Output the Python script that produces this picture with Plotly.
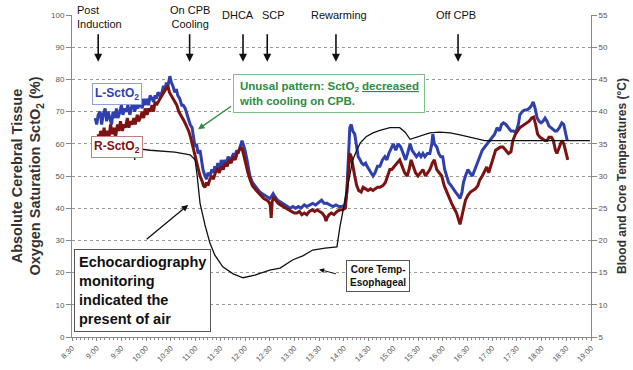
import plotly.graph_objects as go

# ---------------- data ----------------
tick_hours = [8.5 + 0.5 * i for i in range(22)]
tick_labels = ["8:30", "9:00", "9:30", "10:00", "10:30", "11:00", "11:30", "12:00", "12:30",
               "13:00", "13:30", "14:00", "14:30", "15:00", "15:30", "16:00", "16:30",
               "17:00", "17:30", "18:00", "18:30", "19:00"]

l_time = [8.97, 9.00, 9.03, 9.07, 9.10, 9.13, 9.17, 9.20, 9.23, 9.27, 9.30, 9.33, 9.37, 9.40, 9.43,
          9.47, 9.50, 9.53, 9.57, 9.60, 9.63, 9.67, 9.70, 9.73, 9.77, 9.80, 9.83, 9.88, 9.92, 9.95,
          9.98, 10.02, 10.05, 10.08, 10.12, 10.15, 10.18, 10.21, 10.24, 10.28, 10.32, 10.35, 10.38,
          10.41, 10.44, 10.48, 10.51, 10.54, 10.58, 10.61, 10.64, 10.68, 10.72, 10.75, 10.79, 10.82,
          10.85, 10.89, 10.93, 10.96, 10.99, 11.02, 11.05, 11.09, 11.12, 11.15, 11.19, 11.22, 11.25,
          11.29, 11.33, 11.36, 11.39, 11.42, 11.45, 11.49, 11.52, 11.55, 11.59, 11.62, 11.66, 11.70,
          11.74, 11.77, 11.80, 11.83, 11.86, 11.90, 11.94, 11.96, 12.00, 12.04, 12.07, 12.10, 12.15,
          12.20, 12.24, 12.30, 12.35, 12.40, 12.44, 12.50, 12.55, 12.57, 12.61, 12.66, 12.71, 12.77,
          12.81, 12.86, 12.91, 12.97, 13.02, 13.08, 13.13, 13.20, 13.25, 13.31, 13.37, 13.43, 13.50,
          13.55, 13.60, 13.66, 13.72, 13.78, 13.84, 13.90, 13.96, 14.02, 14.06, 14.09, 14.12, 14.15,
          14.18, 14.22, 14.26, 14.29, 14.33, 14.36, 14.40, 14.44, 14.47, 14.51, 14.55, 14.59, 14.63,
          14.68, 14.73, 14.78, 14.83, 14.87, 14.91, 14.96, 15.00, 15.05, 15.10, 15.15, 15.20, 15.25,
          15.29, 15.34, 15.38, 15.42, 15.47, 15.52, 15.56, 15.60, 15.64, 15.69, 15.74, 15.78, 15.80,
          15.83, 15.88, 15.92, 15.96, 16.00, 16.04, 16.08, 16.12, 16.17, 16.21, 16.26, 16.31, 16.35,
          16.39, 16.42, 16.46, 16.51, 16.55, 16.60, 16.65, 16.70, 16.75, 16.80, 16.85, 16.90, 16.95,
          17.00, 17.05, 17.10, 17.15, 17.19, 17.23, 17.28, 17.33, 17.38, 17.43, 17.48, 17.53, 17.56,
          17.61, 17.66, 17.70, 17.75, 17.80, 17.83, 17.87, 17.91, 17.95, 17.99, 18.03, 18.07, 18.11,
          18.15, 18.19, 18.23, 18.27, 18.31, 18.36, 18.41, 18.45, 18.49, 18.52]
l_sct = [68, 66, 69, 70, 66, 69, 71, 67, 70, 68, 66, 70, 68, 71, 68,
         70, 72, 69, 71, 70, 72, 69, 71, 73, 70, 72, 71, 73, 71, 74,
         72, 74, 72, 75, 74, 73, 75, 74, 76, 75, 76, 78, 77,
         79, 78, 81, 79, 78, 76, 77, 75, 74, 72, 72, 71, 69,
         68, 66, 65, 62, 59, 60, 57, 58, 55, 52, 50, 49, 51,
         50, 52, 51, 53, 52, 54, 52, 55, 53, 55, 54, 56, 55,
         56, 57, 56, 58, 57, 59, 61, 60, 58, 55, 52, 50, 48,
         47, 46, 45, 44.5, 44, 43.5, 43, 44, 44.5, 43.5, 42.5, 42, 41.5,
         41, 40.5, 40, 40.5, 40, 40.5, 40, 41, 40.5, 41, 41.5, 41, 42,
         42.5, 41.5, 41.5, 41, 40.5, 41, 40.5, 40.5, 41, 45, 56, 65, 66,
         64, 63, 58, 56, 55, 54, 53.5, 54, 53, 52, 51, 50, 51,
         53, 53, 55, 56, 55, 57, 59, 60, 58, 60, 59, 57, 55,
         57, 60, 58, 57, 56, 57, 56, 57, 56, 57, 57, 60, 63,
         60, 59, 57, 56, 56, 52, 50, 48, 47, 46, 45, 44, 43,
         45, 48, 50, 52, 51, 50, 52, 54, 56, 58, 59, 60, 61,
         62, 63, 65, 64, 66, 66.5, 66, 65, 64, 64, 63.5, 66, 69,
         70, 70.5, 70.5, 71, 72, 73, 71, 68, 67, 66.5, 67, 68, 67,
         65.5, 65, 64.5, 64, 64, 65, 66.5, 66, 63, 61]

r_time = [9.03, 9.05, 9.08, 9.12, 9.15, 9.18, 9.22, 9.25, 9.28, 9.32, 9.35, 9.38, 9.42, 9.45, 9.48,
          9.52, 9.55, 9.58, 9.62, 9.65, 9.68, 9.72, 9.75, 9.78, 9.82, 9.85, 9.88, 9.92, 9.95, 9.98,
          10.02, 10.05, 10.08, 10.12, 10.15, 10.18, 10.21, 10.24, 10.28, 10.32, 10.36, 10.40, 10.44,
          10.47, 10.51, 10.55, 10.58, 10.62, 10.66, 10.70, 10.73, 10.77, 10.80, 10.83, 10.86, 10.90,
          10.93, 10.96, 10.99, 11.02, 11.05, 11.09, 11.13, 11.16, 11.19, 11.22, 11.25, 11.29, 11.33,
          11.36, 11.40, 11.44, 11.48, 11.52, 11.56, 11.60, 11.64, 11.68, 11.72, 11.76, 11.80, 11.84,
          11.88, 11.92, 11.95, 11.98, 12.02, 12.06, 12.10, 12.15, 12.20, 12.26, 12.32, 12.38, 12.44,
          12.48, 12.51, 12.53, 12.55, 12.58, 12.62, 12.67, 12.72, 12.77, 12.82, 12.88, 12.94, 13.00,
          13.05, 13.10, 13.15, 13.20, 13.25, 13.30, 13.36, 13.41, 13.46, 13.51, 13.56, 13.61, 13.64,
          13.66, 13.70, 13.75, 13.80, 13.86, 13.92, 13.98, 14.03, 14.06, 14.08, 14.10, 14.12, 14.15,
          14.18, 14.22, 14.26, 14.30, 14.35, 14.39, 14.44, 14.49, 14.54, 14.59, 14.63, 14.68, 14.73,
          14.79, 14.84, 14.89, 14.93, 14.97, 15.02, 15.07, 15.13, 15.18, 15.23, 15.28, 15.32, 15.36,
          15.40, 15.45, 15.50, 15.55, 15.60, 15.65, 15.70, 15.74, 15.79, 15.83, 15.88, 15.93, 15.98,
          16.03, 16.08, 16.13, 16.18, 16.23, 16.28, 16.33, 16.35, 16.38, 16.42, 16.46, 16.51, 16.56,
          16.61, 16.66, 16.71, 16.75, 16.80, 16.85, 16.89, 16.93, 16.97, 17.02, 17.07, 17.12, 17.17,
          17.22, 17.27, 17.33, 17.38, 17.42, 17.47, 17.52, 17.56, 17.61, 17.66, 17.70, 17.75, 17.80,
          17.84, 17.88, 17.92, 17.97, 18.02, 18.07, 18.11, 18.15, 18.20, 18.24, 18.28, 18.31, 18.36,
          18.41, 18.45, 18.50, 18.53]
r_sct = [63, 61, 64, 62, 65, 61, 64, 62, 66, 63, 65, 62, 66, 64, 67,
         64, 66, 65, 68, 65, 67, 66, 68, 66, 69, 67, 68, 70, 68, 71,
         69, 71, 70, 72, 70, 73, 72, 73, 74, 75, 76, 77, 78,
         76, 75, 74, 73, 72, 70, 69, 68, 67, 66, 65, 64, 62,
         60, 58, 56, 54, 52.5, 50, 48.5, 47, 46.5, 48, 47, 49, 50,
         49, 51, 52, 51, 53, 52, 54, 53, 55, 54, 56, 55, 57,
         58, 59, 58, 56, 53, 51, 49, 47, 46, 45, 44, 43, 42.5,
         42, 41, 37, 42, 43.5, 42.5, 41.5, 41, 40.5, 40, 39.5, 39, 38.5,
         38.5, 39, 38, 38.5, 38, 39, 39.5, 39, 39.5, 39, 38.5, 37.5, 36,
         37, 38, 38.5, 38, 39, 39.5, 39.5, 40, 45, 50, 54, 57, 56,
         53, 50, 47, 45.5, 45, 46.5, 46, 45.5, 46, 45.5, 46, 46.5, 46.5,
         47, 48, 50, 52, 52, 53, 54, 55, 53, 51, 50, 52, 55,
         53, 51, 50, 51, 52, 50, 51, 52, 54, 55, 52, 51, 50,
         47, 45, 43, 41.5, 40, 38.5, 36, 35, 37, 40, 42.5, 44, 45,
         45.5, 46, 47, 48.8, 50, 51.5, 52.8, 51, 53, 56, 58, 58.5, 59,
         59, 58, 57, 57.5, 61, 63, 64, 65, 65.5, 66, 66.5, 67, 68,
         68.3, 66, 63, 62, 61.5, 61, 61, 62, 62, 61, 58, 57, 59,
         61, 60, 57, 55]

core_time = [9.77, 9.77, 10.08, 10.58, 10.89, 10.99, 11.03, 11.09, 11.19, 11.29, 11.39, 11.55, 11.76,
             11.96, 12.20, 12.50, 12.71, 12.97, 13.17, 13.37, 13.62, 13.86, 13.92, 14.00, 14.06,
             14.12, 14.18, 14.26, 14.33, 14.45, 14.59, 14.73, 14.93, 15.13, 15.24, 15.34, 15.54,
             15.74, 15.94, 16.15, 16.35, 16.61, 16.85, 17.06, 17.36, 18.98]
core_temp = [32.5, 34.3, 34.0, 33.7, 33.3, 32.5, 30.2, 25.8, 22.4, 19.6, 17.7, 15.9, 14.8,
             14.2, 14.6, 15.4, 15.7, 17.0, 17.6, 18.5, 18.8, 19.0, 22.1, 25.5, 27.4,
             30.2, 32.5, 34.0, 35.1, 36.1, 36.7, 37.1, 37.5, 37.5, 36.8, 35.7, 36.2,
             36.7, 36.8, 36.7, 36.4, 35.9, 35.5, 35.5, 35.5, 35.5]

event_labels = ["Post<br>Induction", "On CPB<br>Cooling", "DHCA", "SCP", "Rewarming", "Off CPB"]
event_times = [9.03, 10.88, 11.96, 12.45, 13.84, 16.31]
event_label_x = [9.06, 10.88, 11.85, 12.57, 13.90, 16.27]

FONT = "Arial, Liberation Sans, sans-serif"
BLUE = "#2f3fae"
RED = "#7d1212"
GREEN = "#2e8b43"

fig = go.Figure()
fig.add_trace(go.Scatter(x=l_time, y=l_sct, mode="lines", name="L-SctO2",
                         line=dict(color=BLUE, width=3), yaxis="y"))
fig.add_trace(go.Scatter(x=r_time, y=r_sct, mode="lines", name="R-SctO2",
                         line=dict(color=RED, width=3), yaxis="y"))
fig.add_trace(go.Scatter(x=core_time, y=core_temp, mode="lines", name="Core Temp",
                         line=dict(color="#111111", width=1.3), yaxis="y2"))

ann = []
for i, (lab, lx) in enumerate(zip(event_labels, event_label_x)):
    two = "<br>" in lab
    ann.append(dict(x=lx, y=1.0, xref="x", yref="paper", text=lab, showarrow=False,
                    xanchor="center",
                    yanchor="top" if two else "middle",
                    yshift=13 if two else 0,
                    font=dict(family=FONT, size=11, color="#111"), bgcolor="white",
                    align="left" if i == 0 else "center"))
for t in event_times:
    ann.append(dict(x=t, y=85.5, xref="x", yref="y", ax=t, ay=94.5, axref="x", ayref="y",
                    showarrow=True, arrowhead=2, arrowsize=1, arrowwidth=1.6,
                    arrowcolor="#111", text=""))

ann.append(dict(x=9.42, y=75.5, xref="x", yref="y", text="<b>L-SctO<sub>2</sub></b>",
                showarrow=False, font=dict(family=FONT, size=12, color=BLUE),
                bordercolor="#8fa0d8", borderwidth=1, bgcolor="white", borderpad=2))
ann.append(dict(x=9.42, y=59, xref="x", yref="y", text="<b>R-SctO<sub>2</sub></b>",
                showarrow=False, font=dict(family=FONT, size=12, color=RED),
                bordercolor="#c08080", borderwidth=1, bgcolor="white", borderpad=2))
ann.append(dict(x=11.75, y=75.5, xref="x", yref="y", xanchor="left",
                text="<b>Unusal pattern: SctO<sub>2</sub> <u>decreased</u><br>with cooling on CPB.</b>",
                showarrow=False, align="left", font=dict(family=FONT, size=11.5, color=GREEN),
                bordercolor="#7cc08a", borderwidth=1, bgcolor="white", borderpad=5))
ann.append(dict(x=11.05, y=64.5, xref="x", yref="y", ax=11.75, ay=72.0, axref="x", ayref="y",
                showarrow=True, arrowhead=2, arrowwidth=1.3, arrowcolor=GREEN, text=""))
ann.append(dict(x=8.54, y=14.5, xref="x", yref="y", xanchor="left",
                text="<b>Echocardiography<br>monitoring<br>indicated the<br>present of air</b>",
                showarrow=False, align="left", font=dict(family=FONT, size=14.5, color="#111"),
                bordercolor="#555", borderwidth=1, bgcolor="white", borderpad=4))
ann.append(dict(x=10.85, y=41, xref="x", yref="y", ax=9.98, ay=30, axref="x", ayref="y",
                showarrow=True, arrowhead=2, arrowwidth=1.3, arrowcolor="#111", text=""))
ann.append(dict(x=14.69, y=19.0, xref="x", yref="y",
                text="<b>Core Temp-<br>Esophageal</b>", showarrow=False, align="center",
                font=dict(family=FONT, size=10, color="#111"),
                bordercolor="#555", borderwidth=1, bgcolor="white", borderpad=3))
ann.append(dict(x=13.50, y=21.0, xref="x", yref="y", ax=13.87, ay=19.5, axref="x", ayref="y",
                showarrow=True, arrowhead=2, arrowwidth=1, arrowcolor="#111", text=""))

fig.update_layout(
    width=633, height=370,
    margin=dict(l=72, r=42, t=15, b=33),
    paper_bgcolor="white", plot_bgcolor="white",
    showlegend=False,
    font=dict(family=FONT, color="#333"),
    xaxis=dict(range=[8.5, 19.0], tickvals=tick_hours, ticktext=tick_labels, tickangle=-45,
               tickfont=dict(size=7.5, color="#555"), showgrid=False, zeroline=False,
               showline=True, linecolor="#888", linewidth=1, ticks="outside", ticklen=3,
               tickcolor="#888", automargin=False,
               minor=dict(dtick=1/12, ticks="outside", ticklen=2, tickcolor="#888")),
    yaxis=dict(range=[0, 100], tickvals=list(range(0, 101, 10)), tickfont=dict(size=8, color="#555"),
               showgrid=True, gridcolor="#999", griddash="dot", gridwidth=1, zeroline=False,
               showline=True, linecolor="#888", linewidth=1, ticks="outside", ticklen=5,
               tickcolor="#888", automargin=False,
               title=dict(text="<b>Absolute Cerebral Tissue<br>Oxygen Saturation SctO<sub>2</sub> (%)</b>",
                          font=dict(size=14.5, color="#333"), standoff=6)),
    yaxis2=dict(range=[5, 55], tickvals=list(range(5, 56, 5)), overlaying="y", side="right",
                tickfont=dict(size=8, color="#555"), showgrid=False, zeroline=False,
                showline=True, linecolor="#888", linewidth=1, ticks="outside", ticklen=5,
                tickcolor="#888", automargin=False,
                title=dict(text="<b>Blood and Core Temperatures (°C)</b>",
                           font=dict(size=12, color="#333"), standoff=10)),
    annotations=ann,
)

fig.write_html("out.html")
